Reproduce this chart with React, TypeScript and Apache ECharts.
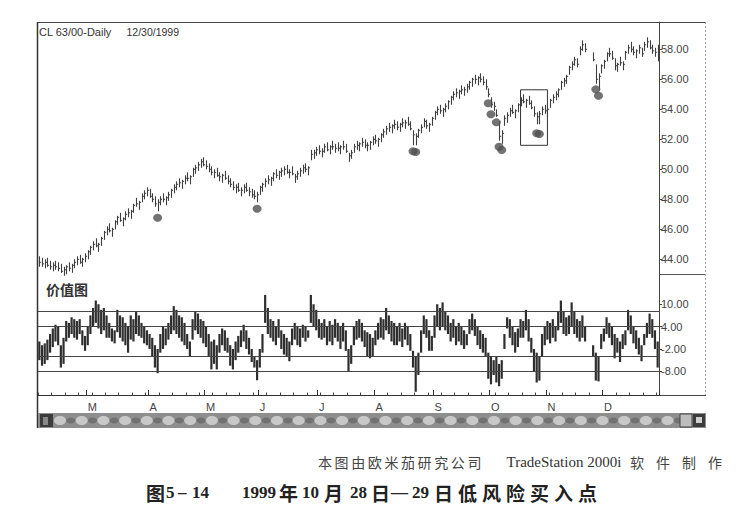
import React, { useEffect, useRef } from "react";
import * as echarts from "echarts";

const monthLetters = ["F", "M", "A", "M", "J", "J", "A", "S", "O", "N", "D"];
const barsPerMonth = [18, 23, 21, 20, 22, 21, 22, 21, 21, 21, 21];

const priceHigh = [
  44.2, 44.1, 44.0, 44.1, 43.9, 43.8, 43.9, 43.8, 43.7, 43.5,
  43.6, 43.8, 43.7, 44.0, 44.2, 44.3, 44.1, 44.4, 44.6, 44.9,
  45.2, 45.4, 45.1, 45.5, 45.9, 46.2, 46.4, 46.1, 46.6, 46.9,
  47.1, 46.8, 47.2, 47.4, 47.3, 47.7, 48.1, 47.9, 48.4, 48.6,
  48.8, 48.7, 48.4, 48.2, 48.0, 48.2, 48.4, 48.2, 48.5, 48.7,
  49.0, 49.2, 49.4, 49.3, 49.6, 49.8, 49.6, 50.1, 50.3, 50.5,
  50.7, 50.8, 50.6, 50.4, 50.2, 50.0, 50.1, 49.8, 49.7, 49.9,
  49.6, 49.4, 49.2, 49.0, 49.1, 48.8, 49.0, 49.1, 48.8, 48.7,
  48.6, 48.5, 48.9, 49.1, 49.4, 49.6, 49.5, 49.8, 50.0, 49.9,
  50.1, 50.2, 50.3, 50.0, 50.2, 49.7, 49.9, 50.1, 50.3, 50.4,
  50.2, 51.3, 51.3, 51.5, 51.6, 51.4, 51.7, 51.8, 51.6, 51.9,
  51.7, 51.8, 51.6, 51.9, 51.7, 51.1, 51.3, 51.7, 51.9, 51.8,
  52.1, 52.0, 51.8, 51.9, 52.2, 52.3, 52.1, 52.4, 52.7, 52.9,
  53.1, 53.0, 53.3, 53.2, 53.1, 53.4, 53.3, 53.5, 53.2, 52.6,
  52.4, 52.7, 53.0, 53.4, 53.3, 53.1, 53.5, 53.9, 54.2, 54.3,
  54.1, 54.4, 54.6, 54.9, 55.2, 55.4, 55.3, 55.6, 55.5, 55.7,
  55.9, 56.1, 56.3, 56.2, 56.4, 56.2, 56.0, 55.4, 54.8, 54.5,
  54.0, 53.2, 52.6, 53.6, 53.8, 54.1, 54.3, 54.0, 54.4, 54.8,
  55.0, 54.7, 54.9, 54.6, 54.2, 53.8, 53.9, 54.2, 54.3, 54.1,
  54.7, 55.0, 55.2, 55.4, 55.9, 56.1, 56.3, 56.9, 57.2, 57.5,
  57.4, 58.2, 58.6, 58.4, null, null, 57.8, 57.0, 56.4, 57.0,
  57.3, 57.8, 58.1, 57.9, 57.4, 57.1, 57.5, 57.2, 57.9, 58.3,
  58.5, 58.2, 58.0, 58.3, 58.1, 58.5, 58.8, 58.6, 58.3, 58.1,
  58.3,
];

const priceLow = [
  43.5, 43.5, 43.4, 43.5, 43.3, 43.2, 43.3, 43.2, 43.1, 42.9,
  43.0, 43.2, 43.1, 43.4, 43.6, 43.7, 43.5, 43.8, 44.0, 44.3,
  44.6, 44.8, 44.5, 44.9, 45.3, 45.6, 45.8, 45.5, 46.0, 46.3,
  46.5, 46.2, 46.6, 46.8, 46.7, 47.1, 47.5, 47.3, 47.8, 48.0,
  48.2, 48.1, 47.8, 47.5, 47.2, 47.6, 47.8, 47.6, 47.9, 48.1,
  48.4, 48.6, 48.8, 48.7, 49.0, 49.2, 49.0, 49.5, 49.7, 49.9,
  50.1, 50.2, 50.0, 49.8, 49.6, 49.4, 49.5, 49.2, 49.1, 49.3,
  49.0, 48.8, 48.6, 48.4, 48.5, 48.2, 48.4, 48.5, 48.2, 48.1,
  48.0, 47.8, 48.3, 48.5, 48.8, 49.0, 48.9, 49.2, 49.4, 49.3,
  49.5, 49.6, 49.7, 49.4, 49.6, 49.1, 49.3, 49.5, 49.7, 49.8,
  49.6, 50.6, 50.7, 50.9, 51.0, 50.8, 51.1, 51.2, 51.0, 51.3,
  51.1, 51.2, 51.0, 51.3, 51.1, 50.5, 50.7, 51.1, 51.3, 51.2,
  51.5, 51.4, 51.2, 51.3, 51.6, 51.7, 51.5, 51.8, 52.1, 52.3,
  52.5, 52.4, 52.7, 52.6, 52.5, 52.8, 52.7, 52.9, 52.6, 51.6,
  51.6, 52.1, 52.4, 52.8, 52.7, 52.5, 52.9, 53.3, 53.6, 53.7,
  53.5, 53.8, 54.0, 54.3, 54.6, 54.8, 54.7, 55.0, 54.9, 55.1,
  55.3, 55.5, 55.7, 55.6, 55.8, 55.6, 55.3, 54.8, 54.1, 53.9,
  53.5, 51.9, 51.7, 52.9, 53.1, 53.5, 53.7, 53.4, 53.8, 54.2,
  54.4, 54.1, 54.3, 54.0, 53.5, 53.0, 53.0, 53.6, 53.7, 53.5,
  54.1, 54.4, 54.6, 54.8, 55.3, 55.5, 55.7, 56.3, 56.6, 56.9,
  56.8, 57.6, 57.9, 57.8, null, null, 57.2, 55.7, 55.3, 56.4,
  56.7, 57.2, 57.5, 57.3, 56.6, 56.5, 56.9, 56.6, 57.3, 57.7,
  57.8, 57.6, 57.4, 57.7, 57.5, 57.9, 58.1, 58.0, 57.7, 57.5,
  57.2,
];

const priceClose = [
  43.8, 43.7, 43.8, 43.6, 43.5, 43.6, 43.5, 43.4, 43.2, 43.3,
  43.5, 43.4, 43.6, 43.8, 44.0, 43.8, 44.0, 44.2, 44.5, 44.8,
  45.0, 44.9, 45.0, 45.4, 45.8, 46.0, 45.9, 46.0, 46.5, 46.8,
  46.6, 46.7, 47.0, 47.1, 47.2, 47.6, 47.7, 47.8, 48.2, 48.4,
  48.6, 48.2, 48.0, 47.7, 47.8, 48.0, 48.0, 48.1, 48.3, 48.6,
  48.8, 49.0, 49.1, 49.2, 49.4, 49.4, 49.5, 50.0, 50.1, 50.3,
  50.5, 50.3, 50.2, 50.0, 49.8, 49.8, 49.6, 49.5, 49.6, 49.4,
  49.2, 49.0, 48.8, 48.8, 48.6, 48.6, 48.8, 48.6, 48.5, 48.3,
  48.2, 48.3, 48.8, 49.0, 49.2, 49.3, 49.4, 49.7, 49.6, 49.8,
  49.9, 50.0, 49.8, 49.8, 49.7, 49.5, 49.7, 49.9, 50.1, 50.0,
  50.1, 51.0, 51.1, 51.3, 51.2, 51.2, 51.5, 51.3, 51.5, 51.5,
  51.4, 51.4, 51.5, 51.5, 51.2, 50.9, 51.1, 51.5, 51.6, 51.7,
  51.8, 51.6, 51.6, 51.8, 52.0, 51.9, 52.0, 52.3, 52.5, 52.7,
  52.8, 52.9, 53.0, 52.8, 53.0, 53.1, 53.1, 53.0, 52.7, 52.3,
  52.2, 52.6, 52.8, 53.2, 52.9, 53.0, 53.4, 53.8, 54.0, 53.9,
  54.0, 54.2, 54.5, 54.8, 55.0, 55.1, 55.2, 55.3, 55.3, 55.5,
  55.8, 56.0, 56.0, 56.1, 56.0, 55.8, 55.5, 55.0, 54.3, 54.2,
  53.6, 52.2, 52.4, 53.4, 53.6, 53.9, 53.8, 53.9, 54.3, 54.6,
  54.5, 54.6, 54.4, 54.1, 53.7, 53.5, 53.7, 54.0, 53.9, 54.0,
  54.6, 54.8, 55.0, 55.3, 55.8, 55.9, 56.2, 56.8, 57.0, 57.3,
  57.0, 58.0, 58.3, 58.0, null, null, 57.3, 56.0, 56.2, 56.9,
  57.2, 57.7, 57.7, 57.4, 56.9, 57.0, 57.1, 57.0, 57.8, 58.1,
  58.0, 57.8, 57.9, 58.1, 57.7, 58.3, 58.5, 58.1, 57.9, 57.8,
  57.4,
];

const valueHigh = [
  0, -1, -0.5, 0.5, 2, 3.5, 4.5, 4, -1, 1,
  5.5, 5, 6.5, 6, 5.5, 6, 3, 1.5, 4, 7,
  9, 11, 10, 8.5, 9, 7, 5, 3.5, 3, 8.5,
  7, 6.5, 5, 4, 7, 6, 8, 7, 5, 4,
  3, 2, 1, -1, -2, 2, 4, 3.5, 5, 7,
  9.5, 8.5, 7, 6.5, 5, 2, 0, 6, 8, 7.5,
  6, 5.5, 4, 2, 0, 0.5, -1, 2, 3.5, 3,
  1, -1, -2, 0, 1.5, 3, 4.5, 3, 1, -2,
  -4, -5, -2, 2, 12.5, 9, 6, 5.5, 4, 6,
  3, 2, 1, 0, 3.5, 5, 4, 3.5, 4.5, 4,
  3, 12.5, 10, 8.5, 6, 5, 6, 4, 5.5, 4.5,
  6, 5, 4, 5, 3, -2, -1, 4, 5.5, 6,
  5, 3, 2.5, 2, 1, 3, 5, 6.5, 6, 9,
  7, 5.5, 5, 4, 5, 3.5, 5, 4, 2, -2.5,
  -4, -3, 3, 7, 6, 3, 1.5, 7, 10, 9,
  10.5, 8, 7, 5, 6, 4, 5, 4, 3, 2,
  6, 7.5, 6, 4, 3, 2, 1, -3, -4, -5,
  -4, -6, -5, 2, 6.5, 6, 4, 2.5, 3.5, 6,
  5.5, 8.5, 6, 1, -2, -3, -4, 2, 4, 5.5,
  5, 6, 4, 8, 11, 8, 6.5, 7, 10.5, 8,
  6, 5.5, 7, 4, null, null, -1, -3, -4, 2,
  3.5, 6.5, 5, 4, 2, 1, 0, 2, 3, 8.5,
  7, 4, 3, 1, -1, 2, 5, 7.5, 6, 3,
  0,
];

const valueLow = [
  -5, -6.5, -6, -5, -3, -1.5, 0, -1, -7, -6,
  0, 1, 2, 1, 0.5, 2, -1, -2.5, -1, 2,
  4, 5, 3.5, 2, 3, 1, 1, 0, -0.5, 2.5,
  1, 0, -1, -3, 0.5, 0, 2, 1.5, 1, -0.5,
  -1, -2, -4, -7, -8.5, -3, -2, -1, 0.5, 2,
  3, 2, 1, 0, -1, -2, -4, 0.5, 3, 2,
  1, -0.5, -1.5, -4, -7.5, -6, -7.5, -3, -1, -2.5,
  -3, -6.5, -7.5, -5, -3, -1.5, 0, -2, -3.5, -5.5,
  -7, -10.4, -7, -3, 5, 2, 1, 0, -1, 1,
  -2, -3.5, -4, -5.3, -1, 0.5, -1, -1.5, 1, 0,
  1, 5, 4, 3, 1, 0.5, 1, -1, 0, -1,
  1, 0, -2, 0, -2.5, -8, -6, -1, 0.5, 1,
  0, -1.5, -4, -4.5, -4, -1, 0.5, 1, 0.5, 3,
  2, 0, -1, -1, 0, -1.5, 0.5, -1, -2.5, -7,
  -13.5, -9, -3, 2, 1, -2.5, -2.5, 1, 4, 3,
  4, 3, 2, 0, 1, -1, 0, -1, -2, -1,
  2, 3, 1.5, -1, -2, -3, -4, -10, -11.5, -9,
  -11, -12, -10, -2, 3.5, 1, -1, -3, -1.5, 1,
  1, 3, 0, -3, -8, -11, -10.5, -4, -1, 0.5,
  -0.5, 1, 0, 3, 5, 2, 1.5, 2, 4, 2,
  1, 0, 1, 0, null, null, -4, -10.5, -10.7, -2,
  0, 2, 1, -1, -4.5, -3, -5.5, -2, -1, 3,
  2, -0.5, -2, -3.5, -5.3, -1, 1, 2, 1, -2,
  -7,
];

const priceTicks = [44, 46, 48, 50, 52, 54, 56, 58];
const valueTickLabels = [10, 4, -2, -8];
const valueLevels = [8, 4, -4, -8];
const dotIndex = [44, 81, 139, 140, 167, 168, 170, 171, 172, 185, 186, 207, 208];
const dotPrice = [46.77, 47.37, 51.2, 51.15, 54.4, 53.67, 53.13, 51.5, 51.29, 52.4, 52.35, 55.33, 54.9];
const boxBars = [179, 189];
const boxPrices = [55.3, 51.6];

const titleText = "CL 63/00-Daily";
const dateText = "12/30/1999";
const panelTitle = "价值图";

// layout (pixels)
const L = 38;
const R = 659;
const FR = 705;
const TOP = 22;
const MID = 274;
const BOT = 395;

export default function App() {
  const ref = useRef<HTMLDivElement>(null);

  useEffect(() => {
    if (!ref.current) return;
    const chart = echarts.init(ref.current, null, { renderer: "svg" });

    const categories: string[] = [];
    const monthLabelAt: Record<number, string> = {};
    barsPerMonth.forEach((n, m) => {
      if (m > 0) monthLabelAt[categories.length] = monthLetters[m];
      for (let d = 1; d <= n; d++) categories.push(monthLetters[m] + m + "-" + d);
    });

    const priceData: any[] = [];
    const valueData: any[] = [];
    categories.forEach((_, i) => {
      if (priceHigh[i] != null) priceData.push([i, priceHigh[i], priceLow[i], priceClose[i]]);
      if (valueHigh[i] != null) valueData.push([i, valueHigh[i], valueLow[i]]);
    });
    const dots = dotIndex.map((d, k) => [d, dotPrice[k]]);

    const font = "'Liberation Sans', Arial, sans-serif";
    const cjk = "'Noto Sans CJK SC', sans-serif";
    const serif = "'Liberation Serif', 'Times New Roman', serif";

    const graphics: any[] = [];
    const line = (x1: number, y1: number, x2: number, y2: number, stroke: string, w = 1, dash?: number[]) =>
      graphics.push({ type: "line", silent: true, shape: { x1, y1, x2, y2 }, style: { stroke, lineWidth: w, lineDash: dash } });
    const text = (x: number, y: number, t: string, f: string, fill = "#333", align = "left") =>
      graphics.push({
        type: "text", silent: true, x, y,
        style: { text: t, font: f, fill, textAlign: align, textVerticalAlign: "middle", align, verticalAlign: "middle" },
      });

    // frame
    line(L - 0.5, TOP, L - 0.5, 428, "#333", 1.5);
    line(L, TOP + 0.5, FR, TOP + 0.5, "#444", 1.2);
    line(FR + 0.5, TOP, FR + 0.5, BOT, "#aaa", 1, [2, 2]);
    line(R, MID + 0.5, FR, MID + 0.5, "#555", 1);
    line(L, BOT + 0.5, FR + 1, BOT + 0.5, "#444", 1);

    // scrollbar
    graphics.push({ type: "rect", silent: true, shape: { x: L, y: 413, width: FR - L + 1, height: 15 }, style: { fill: "#8e8e8e" } });
    for (let x = 60; x < 676; x += 21.7) {
      graphics.push({ type: "ellipse", silent: true, shape: { cx: x, cy: 420.5, rx: 6, ry: 4.5 }, style: { fill: "#d2d2d2", opacity: 0.85 } });
      graphics.push({ type: "ellipse", silent: true, shape: { cx: x + 10.8, cy: 420.5, rx: 4.5, ry: 3 }, style: { fill: "#5e5e5e", opacity: 0.6 } });
    }
    graphics.push({ type: "rect", silent: true, shape: { x: L + 2, y: 414, width: 13, height: 13 }, style: { fill: "#3c3c3c" } });
    graphics.push({ type: "rect", silent: true, shape: { x: L + 5, y: 417, width: 5, height: 8 }, style: { fill: "#888" } });
    graphics.push({ type: "rect", silent: true, shape: { x: 680, y: 414, width: 12, height: 13 }, style: { fill: "#bdbdbd", stroke: "#444", lineWidth: 1 } });
    graphics.push({ type: "rect", silent: true, shape: { x: 693, y: 414, width: 12, height: 13 }, style: { fill: "#3c3c3c" } });
    graphics.push({ type: "rect", silent: true, shape: { x: 696, y: 417, width: 6, height: 6 }, style: { fill: "#cfcfcf" } });

    // texts
    text(39, 32, titleText, "11px " + font, "#333");
    text(126.5, 32, dateText, "10.5px " + font, "#333");
    text(46, 289, panelTitle, "bold 14px " + cjk, "#333");

    // caption 1
    "本图由欧米茄研究公司".split("").forEach((ch, k) => text(318 + k * 16.6, 462, ch, "14px " + cjk, "#444"));
    text(506.5, 462, "TradeStation 2000i", "15px " + serif, "#333");
    "软件制作".split("").forEach((ch, k) => text(630 + k * 26, 462, ch, "14px " + cjk, "#444"));

    // caption 2
    const cy = 492;
    const bc = "bold 19px " + cjk;
    const bs = "bold 17px " + serif;
    text(146, cy, "图", bc, "#222");
    text(166, cy, "5", bs, "#222");
    text(178, cy, "–", bs, "#222");
    text(192, cy, "14", bs, "#222");
    text(242, cy, "1999", bs, "#222");
    text(279, cy, "年", bc, "#222");
    text(302, cy, "10", bs, "#222");
    text(324, cy, "月", bc, "#222");
    text(350, cy, "28", bs, "#222");
    text(371, cy, "日", bc, "#222");
    text(391, cy, "—", bs, "#222");
    text(412, cy, "29", bs, "#222");
    "日低风险买入点".split("").forEach((ch, k) => text(434 + k * 24, cy, ch, bc, "#222"));

    const option: any = {
      animation: false,
      backgroundColor: "#ffffff",
      textStyle: { fontFamily: font },
      grid: [
        { left: L, width: R - L, top: TOP, height: MID - TOP },
        { left: L, width: R - L, top: MID, height: BOT - MID },
      ],
      xAxis: [
        { type: "category", gridIndex: 0, data: categories, show: false, boundaryGap: true },
        {
          type: "category", gridIndex: 1, data: categories, position: "bottom", boundaryGap: true,
          axisLine: { show: true, onZero: false, lineStyle: { color: "#333", width: 1 } },
          axisTick: { show: true, inside: true, length: 2.5, interval: (i: number) => i % 5 === 0, lineStyle: { color: "#444" } },
          axisLabel: { show: false },
          splitLine: { show: false },
        },
        {
          type: "category", gridIndex: 1, data: categories, position: "bottom", boundaryGap: true,
          axisLine: { show: false, onZero: false },
          axisTick: { show: true, inside: true, length: 5, interval: (i: number) => monthLabelAt[i] !== undefined, lineStyle: { color: "#333" } },
          axisLabel: {
            show: true, interval: (i: number) => monthLabelAt[i] !== undefined,
            formatter: (_v: string, i: number) => monthLabelAt[i] || "",
            color: "#444", fontSize: 11, margin: 6, align: "left", fontFamily: font,
          },
          splitLine: { show: false },
        },
      ],
      yAxis: [
        {
          type: "value", gridIndex: 0, position: "right", min: 43.02, max: 59.82,
          axisLine: { show: true, lineStyle: { color: "#444", width: 1 } },
          axisTick: { show: true, length: 3, customValues: priceTicks, lineStyle: { color: "#444" } },
          axisLabel: {
            show: true, customValues: priceTicks, formatter: (v: number) => v.toFixed(2),
            color: "#444", fontSize: 11, margin: 2, fontFamily: font,
          },
          splitLine: { show: false },
        },
        {
          type: "value", gridIndex: 1, position: "right", min: -14.36, max: 18.12,
          axisLine: { show: true, lineStyle: { color: "#444", width: 1 } },
          axisTick: { show: true, length: 3, customValues: valueTickLabels, lineStyle: { color: "#444" } },
          axisLabel: {
            show: true, customValues: valueTickLabels, formatter: (v: number) => v.toFixed(2),
            color: "#444", fontSize: 11, margin: 2, fontFamily: font,
          },
          splitLine: { show: false },
        },
      ],
      series: [
        {
          type: "custom", name: "price", xAxisIndex: 0, yAxisIndex: 0, data: priceData,
          encode: { x: 0, y: [1, 2] },
          renderItem: (_p: any, api: any) => {
            const i = api.value(0);
            const top = api.coord([i, api.value(1)]);
            const bot = api.coord([i, api.value(2)]);
            const cl = api.coord([i, api.value(3)]);
            const x = Math.round(top[0]) + 0.5;
            return {
              type: "group",
              children: [
                { type: "line", shape: { x1: x, y1: top[1], x2: x, y2: bot[1] }, style: { stroke: "#3e3e3e", lineWidth: 1.1 } },
                { type: "line", shape: { x1: x, y1: cl[1], x2: x + 1.6, y2: cl[1] }, style: { stroke: "#3e3e3e", lineWidth: 1 } },
              ],
            };
          },
          markArea: {
            silent: true,
            itemStyle: { color: "rgba(0,0,0,0)", borderColor: "#333", borderWidth: 1 },
            data: [[
              { xAxis: categories[boxBars[0]], yAxis: boxPrices[0] },
              { xAxis: categories[boxBars[1]], yAxis: boxPrices[1] },
            ]],
          },
          z: 2,
        },
        {
          type: "scatter", name: "dots", xAxisIndex: 0, yAxisIndex: 0, data: dots,
          symbol: "circle", symbolSize: [9, 8], itemStyle: { color: "#505050" }, z: 3,
        },
        {
          type: "custom", name: "value", xAxisIndex: 1, yAxisIndex: 1, data: valueData,
          encode: { x: 0, y: [1, 2] },
          renderItem: (_p: any, api: any) => {
            const i = api.value(0);
            const top = api.coord([i, api.value(1)]);
            const bot = api.coord([i, api.value(2)]);
            const x = top[0];
            return { type: "line", shape: { x1: x, y1: top[1], x2: x, y2: bot[1] }, style: { stroke: "#2e2e2e", lineWidth: 2.2 } };
          },
          markLine: {
            silent: true, symbol: "none", label: { show: false },
            lineStyle: { color: "#444", width: 1, type: "solid" },
            data: valueLevels.map((v) => ({ yAxis: v })),
          },
          z: 2,
        },
      ],
      graphic: { elements: graphics },
    };

    chart.setOption(option);
    return () => chart.dispose();
  }, []);

  return (
    <div
      ref={ref}
      style={{ position: "fixed", left: 0, top: 0, width: 746, height: 526, background: "#fff" }}
    />
  );
}
